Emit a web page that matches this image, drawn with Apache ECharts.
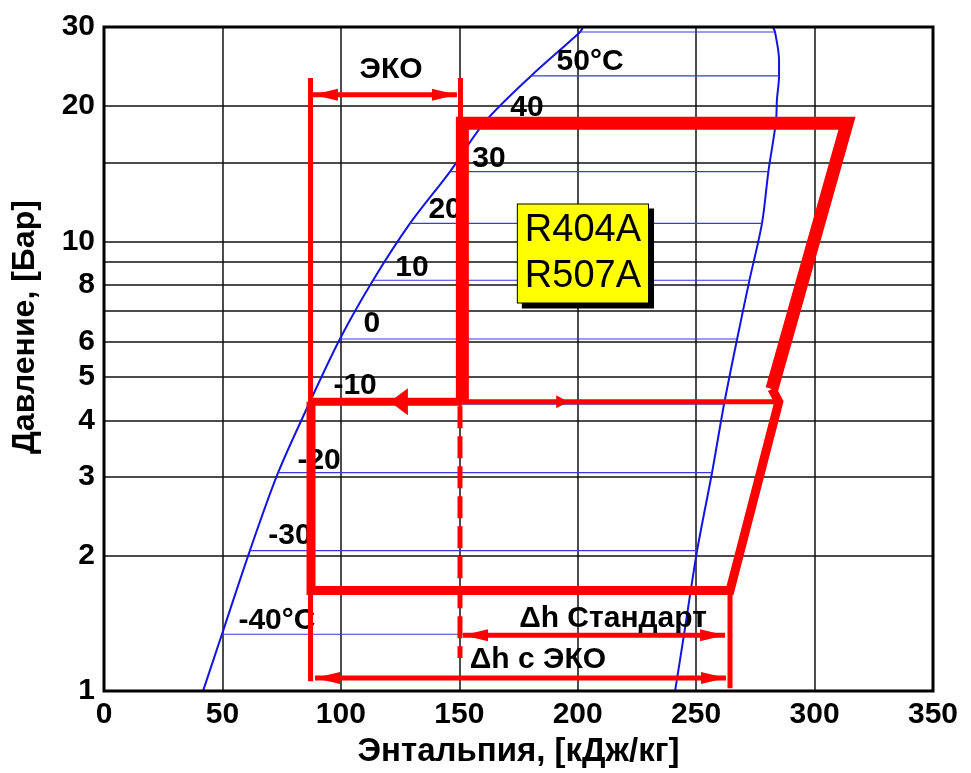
<!DOCTYPE html>
<html><head><meta charset="utf-8">
<script src="https://cdn.jsdelivr.net/npm/echarts@6/dist/echarts.min.js"></script>
<style>html,body{margin:0;padding:0;background:#fff}#c{width:971px;height:773px}</style>
</head><body><div id="c"></div>
<script>
// ---------- axes ----------
const yLabelTicks = [1, 2, 3, 4, 5, 6, 8, 10, 20, 30];
const yGridTicks = [1, 2, 3, 4, 5, 6, 7, 8, 9, 10, 15, 20, 30];
const xAxisTitle = 'Энтальпия, [кДж/кг]';
const yAxisTitle = 'Давление, [Бар]';

// ---------- saturation dome (h kJ/kg, p bar) ----------
const liqH = [41.8, 49.8, 61.6, 73.5, 86.5, 99.6, 113.6, 129.2, 146.1, 160.9, 180.3, 201.0, 202.2];
const liqP = [1, 1.338, 2.054, 3.06, 4.35, 6.07, 8.20, 10.97, 14.31, 18.47, 23.35, 29.24, 30];
const vapH = [282.4, 283.3, 285.0, 285.0, 284.1, 283.7, 280.5, 277.8, 272.5, 267.3, 261.8, 256.7, 250.4, 244.9, 241.1];
const vapP = [30, 29.24, 25.35, 23.35, 20.66, 18.47, 14.31, 10.97, 8.20, 6.07, 4.35, 3.06, 2.054, 1.338, 1];

// ---------- isotherms ----------
const isoT = [-40, -30, -20, -10, 0, 10, 20, 30, 40, 50, 60];
const isoP = [1.338, 2.054, 3.06, 4.35, 6.07, 8.20, 10.97, 14.31, 18.47, 23.35, 29.24];
const isoHliq = [49.8, 61.6, 73.5, 86.5, 99.6, 113.6, 129.2, 146.1, 160.9, 180.3, 201.0];
const isoHvap = [244.9, 250.4, 256.7, 261.8, 267.3, 272.5, 277.8, 280.5, 283.7, 285.0, 283.3];
const isoLabelText = ['-40°C', '-30', '-20', '-10', '0', '10', '20', '30', '40', '50°C'];
const isoLabelH = [73.0, 78.5, 90.8, 106.0, 113.1, 130.0, 144.0, 162.5, 178.6, 205.2];
const isoLabelP = [1.437, 2.22, 3.25, 4.77, 6.55, 8.76, 11.78, 15.29, 19.83, 25.08];

// ---------- refrigeration cycle ----------
const highStageH = [151.3, 151.3, 313.7, 282.0];
const highStageP = [4.40, 18.32, 18.32, 4.70];
const lowStageH = [282.0, 284.9, 264.3, 87.4, 87.4];
const lowStageP = [4.70, 4.40, 1.675, 1.675, 4.40];
const midLeftH = [87.4, 151.3];
const midLeftP = [4.40, 4.40];
const midRightH = [151.3, 284.9];
const midRightP = [4.40, 4.40];

// dimension / extension lines
const extLeftH = [87.2, 87.2];
const extLeftP = [23.1, 1.052];
const extEcoH = [150.5, 150.5];
const extEcoP = [23.1, 18.32];
const extRightH = [264.3, 264.3];
const extRightP = [1.675, 1.015];
const dashH = [150.3, 150.3];
const dashP = [4.30, 1.184];
const ecoDimH = [88.2, 149.0];
const ecoDimP = [21.2, 21.2];
const stdDimH = [151.6, 262.2];
const stdDimP = [1.331, 1.331];
const ecoDhDimH = [89.1, 262.6];
const ecoDhDimP = [1.069, 1.069];

// arrow heads (tip positions)
const arrowKind = ['dim', 'dim', 'dim', 'dim', 'dim', 'dim', 'big', 'small'];
const arrowTipH = [88.2, 149.0, 151.6, 262.2, 89.1, 262.6, 120.7, 196.0];
const arrowTipP = [21.2, 21.2, 1.331, 1.331, 1.069, 1.069, 4.40, 4.40];
const arrowDir = ['left', 'right', 'left', 'right', 'left', 'right', 'left', 'right'];

// annotations
const noteText = ['ЭКО', 'Δh Стандарт', 'Δh с ЭКО'];
const noteH = [121.2, 214.9, 183.2];
const noteP = [24.08, 1.452, 1.172];
const boxText = 'R404A\nR507A';
const boxH = 202.2;
const boxP = 9.41;

// ---------- build ----------
const FONT = "'Liberation Sans', Arial, sans-serif";
const RED = '#ff0000';
const BLUE = '#1414e0';
const pts = (H, P) => H.map((h, i) => [h, P[i]]);

function redLine(H, P, width, z, type) {
  return {
    type: 'line', data: pts(H, P), symbol: 'none', silent: true, z: z || 5,
    lineStyle: { color: RED, width: width, cap: 'butt', join: 'miter', type: type || 'solid' }
  };
}
const hidden = { color: 'rgba(0,0,0,0)', opacity: 1 };

const series = [];
series.push({ type: 'line', data: pts(liqH, liqP), smooth: 0.3, symbol: 'none', z: 2,
  lineStyle: { color: BLUE, width: 2 } });
series.push({ type: 'line', data: pts(vapH, vapP), smooth: 0.3, symbol: 'none', z: 2,
  lineStyle: { color: BLUE, width: 2 } });
isoT.forEach((t, i) => {
  series.push({ type: 'line', name: 'iso' + t, data: [[isoHliq[i], isoP[i]], [isoHvap[i], isoP[i]]],
    symbol: 'none', z: 2, lineStyle: { color: '#3a3ad6', width: 1.2 } });
});
series.push({
  type: 'scatter', z: 3, symbolSize: 1, itemStyle: hidden,
  data: isoLabelText.map((t, i) => ({ value: [isoLabelH[i], isoLabelP[i]], name: t })),
  label: { show: true, position: 'inside', formatter: p => p.name, color: '#000', opacity: 1,
    fontSize: 30, fontWeight: 'bold', fontFamily: FONT }
});
// cycle
series.push(redLine(extLeftH, extLeftP, 5, 4));
series.push(redLine(extEcoH, extEcoP, 5, 4));
series.push(redLine(extRightH, extRightP, 5, 4));
series.push(redLine(dashH, dashP, 5, 4, [22, 8]));
series.push(redLine(ecoDimH, ecoDimP, 5, 4));
series.push(redLine(stdDimH, stdDimP, 5, 4));
series.push(redLine(ecoDhDimH, ecoDhDimP, 5, 4));
series.push(redLine(midRightH, midRightP, 5, 5));
series.push(redLine(midLeftH, midLeftP, 8, 5));
series.push(redLine(lowStageH, lowStageP, 9, 5));
series.push(redLine(highStageH, highStageP, 13, 6));
// arrow heads
const arrowSize = { dim: [12, 25], big: [27, 18], small: [13, 12] };
series.push({
  type: 'scatter', z: 7, symbol: 'triangle',
  data: arrowTipH.map((h, i) => {
    const s = arrowSize[arrowKind[i]];
    const left = arrowDir[i] === 'left';
    return {
      value: [h, arrowTipP[i]],
      symbolSize: s,
      symbolRotate: left ? 90 : -90,
      symbolOffset: [left ? s[1] / 2 : -s[1] / 2, 0]
    };
  }),
  itemStyle: { color: RED, opacity: 1 }
});
// notes
series.push({
  type: 'scatter', z: 8, symbolSize: 1, itemStyle: hidden,
  data: noteText.map((t, i) => ({ value: [noteH[i], noteP[i]], name: t })),
  label: { show: true, position: 'inside', formatter: p => p.name, color: '#000', opacity: 1,
    fontSize: 30, fontWeight: 'bold', fontFamily: FONT }
});
series.push({
  type: 'scatter', z: 9, symbolSize: 1, itemStyle: hidden,
  data: [{ value: [boxH, boxP], name: boxText }],
  label: { show: true, position: 'inside', formatter: p => p.name, color: '#000', opacity: 1,
    fontSize: 38, lineHeight: 46, fontFamily: FONT,
    backgroundColor: '#ffff00', borderColor: '#000', borderWidth: 1,
    padding: [3, 7, 3, 7],
    shadowColor: '#000', shadowBlur: 0, shadowOffsetX: 5, shadowOffsetY: 5 }
});

const chart = echarts.init(document.getElementById('c'), null, { renderer: 'canvas' });
chart.setOption({
  animation: false,
  backgroundColor: '#fff',
  grid: { left: 104, top: 27, width: 829, height: 666, show: true,
    borderColor: '#000', borderWidth: 3, backgroundColor: 'transparent', z: 10 },
  xAxis: {
    type: 'value', min: 0, max: 350, interval: 50,
    name: xAxisTitle, nameLocation: 'middle', nameGap: 43,
    nameTextStyle: { fontSize: 33, fontWeight: 'bold', color: '#000', fontFamily: FONT },
    axisLine: { show: false }, axisTick: { show: false },
    axisLabel: { fontSize: 30, fontWeight: 'bold', color: '#000', margin: 9, fontFamily: FONT },
    splitLine: { show: true, lineStyle: { color: '#111', width: 1.5 } }
  },
  yAxis: {
    type: 'log', logBase: 10, min: 1, max: 30,
    name: yAxisTitle, nameLocation: 'middle', nameGap: 63, nameRotate: 90,
    nameTextStyle: { fontSize: 32, fontWeight: 'bold', color: '#000', fontFamily: FONT, padding: [0, 0, 0, 64] },
    axisLine: { show: false },
    axisTick: { show: false, customValues: yGridTicks },
    axisLabel: { customValues: yLabelTicks, fontSize: 30, fontWeight: 'bold', color: '#000', margin: 9, fontFamily: FONT },
    splitLine: { show: true, lineStyle: { color: '#111', width: 1.5 } },
    minorSplitLine: { show: false }
  },
  series: series
});
</script>
</body></html>
